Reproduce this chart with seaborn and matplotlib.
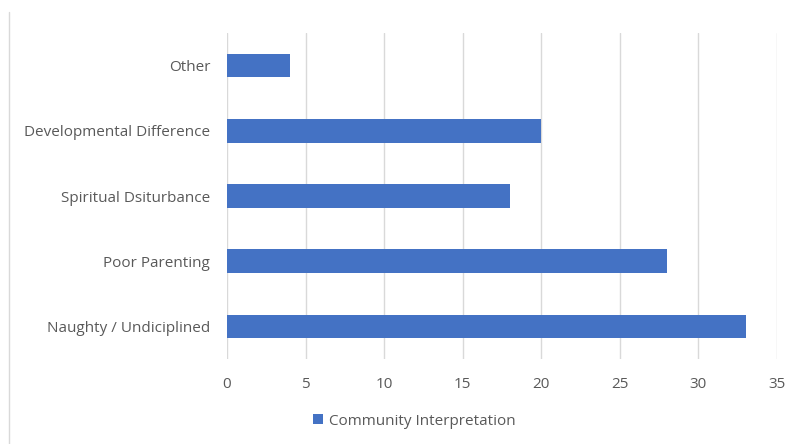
import matplotlib
matplotlib.use("Agg")
import matplotlib.pyplot as plt
import seaborn as sns
import pandas as pd
from matplotlib.lines import Line2D

categories = ["Other", "Developmental Difference", "Spiritual Dsiturbance",
              "Poor Parenting", "Naughty / Undiciplined"]
values = [4, 20, 18, 28, 33]
series_name = "Community Interpretation"
xticks = [0, 5, 10, 15, 20, 25, 30, 35]

df = pd.DataFrame({"category": categories, "value": values, "series": series_name})

sns.set_theme(style="white")
plt.rcParams["font.family"] = ["Open Sans", "DejaVu Sans"]
text_color = "#595959"

fig = plt.figure(figsize=(7.9, 4.44), dpi=100)
ax = fig.add_axes([227/790, 1 - 359/444, 550/790, 326/444])

sns.barplot(data=df, y="category", x="value", hue="series", orient="h",
            palette=["#4472C4"], width=0.36, ax=ax, saturation=1,
            edgecolor="none")

ax.set_xlim(0, 35)
ax.set_xticks(xticks)
ax.set_xticklabels([str(t) for t in xticks])
ax.set_xlabel("")
ax.set_ylabel("")
ax.grid(axis="x", color="#d9d9d9", linewidth=1)
ax.set_axisbelow(True)
for s in ax.spines.values():
    s.set_visible(False)
ax.tick_params(axis="both", length=0, labelsize=11, colors=text_color)
ax.tick_params(axis="x", pad=13)
ax.tick_params(axis="y", pad=12)

sns.move_legend(ax, "center", bbox_to_anchor=(414/790, 1 - 421/444),
                bbox_transform=fig.transFigure, frameon=False, title=None,
                handlelength=0.65, handleheight=0.65, handletextpad=0.4,
                fontsize=11)
for t in ax.get_legend().get_texts():
    t.set_color(text_color)

fig.add_artist(Line2D([9/790, 9/790], [0, 1 - 12/444], transform=fig.transFigure,
                      color="#d9d9d9", linewidth=1))

fig.savefig("out.png", dpi=100)
